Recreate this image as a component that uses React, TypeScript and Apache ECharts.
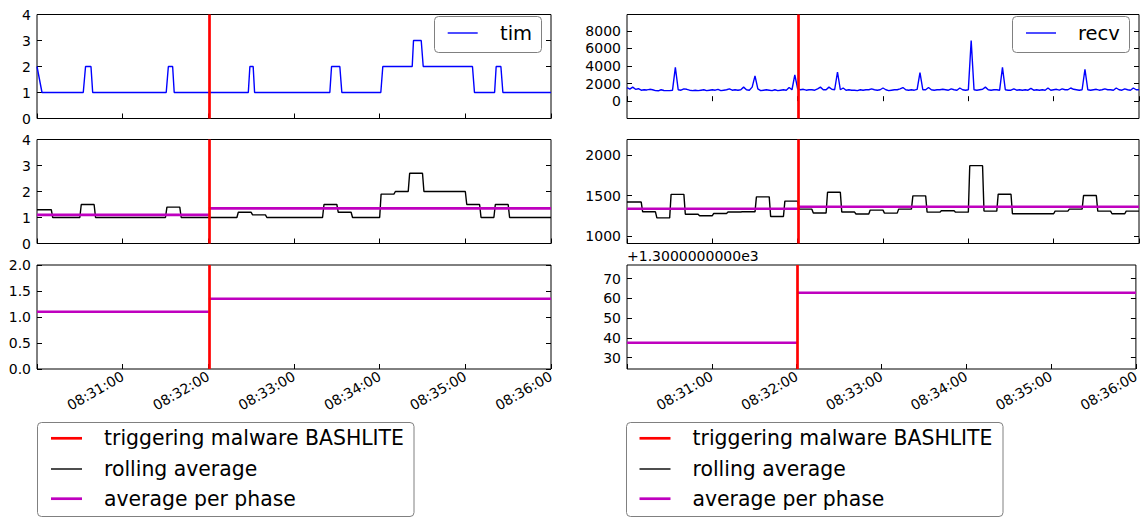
import React, { useEffect, useRef } from "react";
import * as echarts from "echarts";

// ---------- data ----------
const minuteTicks = [0, 60, 120, 180, 240, 300, 360];
const minuteLabels = [60, 120, 180, 240, 300, 360];
const triggerTime = 120.3; // seconds after 08:30:00

const timTimes = [0, 3.5, 32.4, 34, 37.8, 39, 90.5, 92, 95, 96.1, 148, 149.1, 151.4, 152.4, 205.1, 206.3, 212.1, 213.5, 240.8, 242.2, 262.8, 263.7, 269.1, 270.5, 305, 306.4, 320.5, 321.6, 324.9, 326.3, 360];
const timValues = [2, 1, 1, 2, 2, 1, 1, 2, 2, 1, 1, 2, 2, 1, 1, 2, 2, 1, 1, 2, 2, 3, 3, 2, 2, 1, 1, 2, 2, 1, 1];

const recvStep = 2; // seconds between samples
const recvValues = [
  1550, 1380, 1600, 1350, 1420, 1250, 1300, 1280, 1350, 1300,
  1200, 1180, 1300, 1220, 1200, 1200, 1250, 3850, 1300, 1250,
  1400, 1350, 1250, 1200, 1250, 1200, 1250, 1300, 1200, 1250,
  1300, 1250, 1350, 1200, 1250, 1300, 1400, 1250, 1300, 1250,
  1300, 1600, 1300, 1250, 1600, 2870, 1400, 1200, 1250, 1300,
  1250, 1200, 1300, 1200, 1250, 1300, 1250, 1550, 1300, 2980,
  1400, 1300, 1350, 1250, 1300, 1300, 1250, 1400, 1600, 1300,
  1300, 1600, 1350, 1300, 3320, 1300, 1500, 1250, 1300, 1250,
  1250, 1200, 1300, 1250, 1300, 1300, 1400, 1300, 1250, 1300,
  1500, 1300, 1200, 1250, 1300, 1300, 1400, 1550, 1300, 1250,
  1300, 1250, 1350, 3240, 1300, 1300, 1550, 1300, 1250, 1300,
  1300, 1350, 1300, 1250, 1400, 1300, 1250, 1500, 1300, 1250,
  1300, 6900, 1300, 1250, 1300, 1350, 1600, 1300, 1250, 1300,
  1300, 1250, 3850, 1300, 1250, 1250, 1400, 1250, 1300, 1250,
  1300, 1250, 1450, 1250, 1300, 1250, 1300, 1250, 1500, 1250,
  1300, 1350, 1250, 1400, 1300, 1300, 1500, 1350, 1300, 1250,
  1300, 3630, 1300, 1250, 1300, 1350, 1250, 1300, 1400, 1300,
  1300, 1250, 1500, 1300, 1250, 1400, 1300, 1250, 1500, 1300,
  1300,
];

const rollingWindow = 10; // seconds per rolling-average level
const timRolling = [
  1.3, 1.0, 1.0, 1.5, 1.0, 1.0, 1.0, 1.0, 1.0, 1.4,
  1.0, 1.0, 1.0, 1.0, 1.2, 1.1, 1.0, 1.0, 1.0, 1.0,
  1.5, 1.2, 1.0, 1.0, 1.9, 2.0, 2.7, 2.0, 2.0, 2.0,
  1.5, 1.0, 1.5, 1.0, 1.0, 1.0,
];
const recvRolling = [
  1420, 1300, 1225, 1515, 1270, 1252, 1280, 1297, 1300, 1484,
  1243, 1431, 1333, 1286, 1541, 1297, 1273, 1321, 1284, 1333,
  1496, 1296, 1313, 1296, 1868, 1309, 1517, 1276, 1276, 1276,
  1309, 1333, 1500, 1309, 1276, 1309,
];

const timPhaseAvg = [1.1, 1.352];
const recvPhaseAvg = [1337.6, 1362.9];

const rawNames = ["tim", "recv"];
const legendNames = ["triggering malware BASHLITE", "rolling average", "average per phase"];
const offsetText = "+1.3000000000e3";

// tick values
const timTicks = [0, 1, 2, 3, 4];
const timPhaseTicks = [0, 0.5, 1, 1.5, 2];
const recvTicks = [0, 2000, 4000, 6000, 8000];
const recvRollTicks = [1000, 1500, 2000];
const recvPhaseTicks = [1330, 1340, 1350, 1360, 1370];

// ---------- helpers ----------
const FONT = "DejaVu Sans";
const pad = (n: number) => String(n).padStart(2, "0");
const fmtTime = (v: number) => {
  const total = 8 * 3600 + 30 * 60 + Math.round(v);
  const h = Math.floor(total / 3600);
  const m = Math.floor((total % 3600) / 60);
  const s = total % 60;
  return `${pad(h)}:${pad(m)}:${pad(s)}`;
};
const stepPoints = (levels: number[]) => {
  const pts: number[][] = [[0, levels[0]]];
  levels.forEach((v, k) => {
    if (k > 0) pts.push([k * rollingWindow + 1, v]);
    pts.push([k * rollingWindow + rollingWindow, v]);
  });
  return pts;
};

const PANEL_TOPS = [14.5, 139.5, 265];
const PANEL_H = 104;
const LEFT_X = 37, LEFT_W = 514;
const RIGHT_X = 627, RIGHT_W = 512;

export default function App() {
  const ref = useRef<HTMLDivElement>(null);
  useEffect(() => {
    if (!ref.current) return;
    const chart = echarts.init(ref.current, undefined, { renderer: "svg" });

    const grids: any[] = [];
    [LEFT_X, RIGHT_X].forEach((x, c) => {
      PANEL_TOPS.forEach((t) => {
        grids.push({
          left: x, top: t, width: c === 0 ? LEFT_W : RIGHT_W, height: PANEL_H,
          show: true, borderColor: "#000", borderWidth: 1, backgroundColor: "#fff",
          containLabel: false,
        });
      });
    });

    const xAxes = grids.map((_, i) => ({
      type: "value", gridIndex: i, min: 0, max: 360,
      axisLine: { show: false }, splitLine: { show: false },
      axisTick: { show: true, inside: true, length: 5, lineStyle: { color: "#000" }, customValues: minuteTicks },
      axisLabel: i % 3 === 2
        ? { show: true, customValues: minuteLabels, formatter: fmtTime, rotate: 30, color: "#000", fontSize: 14, fontFamily: FONT, margin: 6 }
        : { show: false },
    }));

    const yDefs = [
      { min: 0, max: 4, ticks: timTicks, fmt: (v: number) => String(v) },
      { min: 0, max: 4, ticks: timTicks, fmt: (v: number) => String(v) },
      { min: 0, max: 2, ticks: timPhaseTicks, fmt: (v: number) => v.toFixed(1) },
      { min: -1970, max: 9860, ticks: recvTicks, fmt: (v: number) => String(v) },
      { min: 910, max: 2190, ticks: recvRollTicks, fmt: (v: number) => String(v) },
      { min: 1324.3, max: 1376.9, ticks: recvPhaseTicks, fmt: (v: number) => String(Math.round(v - 1300)) },
    ];
    const yAxes: any[] = [];
    yDefs.forEach((d, i) => {
      const base = {
        type: "value", gridIndex: i, min: d.min, max: d.max,
        axisLine: { show: false }, splitLine: { show: false },
        axisTick: { show: true, inside: true, length: 5, lineStyle: { color: "#000" }, customValues: d.ticks },
      };
      yAxes.push({
        ...base, position: "left",
        axisLabel: { show: true, customValues: d.ticks, formatter: d.fmt, color: "#000", fontSize: 14, fontFamily: FONT, margin: 6 },
      });
      yAxes.push({ ...base, position: "right", axisLabel: { show: false } });
    });

    const redLine = {
      symbol: "none", silent: true, label: { show: false },
      lineStyle: { color: "#ff0000", width: 2.7, type: "solid" },
      emphasis: { disabled: true },
      data: [{ xAxis: triggerTime }],
    };
    const line = (name: string, g: number, data: any[], color: string, width: number, mark = false) => ({
      type: "line", name, xAxisIndex: g, yAxisIndex: g * 2, data,
      symbol: "none", showSymbol: false, silent: true,
      lineStyle: { color, width }, itemStyle: { color },
      emphasis: { disabled: true },
      ...(mark ? { markLine: redLine } : {}),
    });
    const phase = (g: number, vals: number[], mark: boolean) => [
      line(legendNames[2], g, [[0, vals[0]], [triggerTime, vals[0]]], "#bf00bf", 2.6, mark),
      line(legendNames[2], g, [[triggerTime, vals[1]], [360, vals[1]]], "#bf00bf", 2.6),
    ];

    const series: any[] = [
      line(rawNames[0], 0, timTimes.map((t, i) => [t, timValues[i]]), "#0000ff", 1.4, true),
      line(legendNames[1], 1, stepPoints(timRolling), "#000000", 1.4, false),
      ...phase(1, timPhaseAvg, true),
      ...phase(2, timPhaseAvg, true),
      line(rawNames[1], 3, recvValues.map((v, i) => [i * recvStep, v]), "#0000ff", 1.4, true),
      line(legendNames[1], 4, stepPoints(recvRolling), "#000000", 1.4, false),
      ...phase(4, recvPhaseAvg, true),
      ...phase(5, recvPhaseAvg, true),
    ];

    const txt = (text: string, x: number, y: number, size: number) => ({
      type: "text", x, y, z: 101,
      style: { text, font: `${size}px "${FONT}"`, fill: "#000", textVerticalAlign: "middle", textAlign: "left" },
    });
    const box = (x: number, y: number, w: number, h: number) => ({
      type: "rect", z: 100, shape: { x, y, width: w, height: h, r: 4 },
      style: { fill: "#fff", stroke: "#808080", lineWidth: 1 },
    });
    const seg = (x1: number, x2: number, y: number, color: string, w: number) => ({
      type: "line", z: 101, shape: { x1, y1: y, x2, y2: y }, style: { stroke: color, lineWidth: w },
    });
    const legendColors = ["#ff0000", "#000000", "#bf00bf"];
    const legendWidths = [2.7, 1.4, 2.7];
    const legendRows = [438.3, 469, 498.7];
    const bottomLegend = (bx: number, lx: number, tx: number) => [
      box(bx, 422.5, 376.5, 94),
      ...legendNames.flatMap((n, i) => [
        seg(lx, lx + 31, legendRows[i], legendColors[i], legendWidths[i]),
        txt(n, tx, legendRows[i], 20.4),
      ]),
    ];

    const graphic = [
      txt(offsetText, 627, 256, 14),
      box(434.5, 16.5, 107, 36),
      seg(447.7, 477.7, 33, "#0000ff", 1.4),
      txt(rawNames[0], 500, 33, 19.5),
      box(1012.5, 16.5, 117, 36),
      seg(1026, 1056, 33, "#0000ff", 1.4),
      txt(rawNames[1], 1078, 33, 19.5),
      ...bottomLegend(37.5, 51, 104),
      ...bottomLegend(626.5, 639.5, 692.5),
    ];

    chart.setOption({
      animation: false,
      backgroundColor: "#fff",
      textStyle: { fontFamily: FONT },
      grid: grids,
      xAxis: xAxes,
      yAxis: yAxes,
      series,
      graphic,
    });
    return () => chart.dispose();
  }, []);
  return (
    <div
      ref={ref}
      style={{ position: "fixed", left: 0, top: 0, width: 1142, height: 518, background: "#fff" }}
    />
  );
}
